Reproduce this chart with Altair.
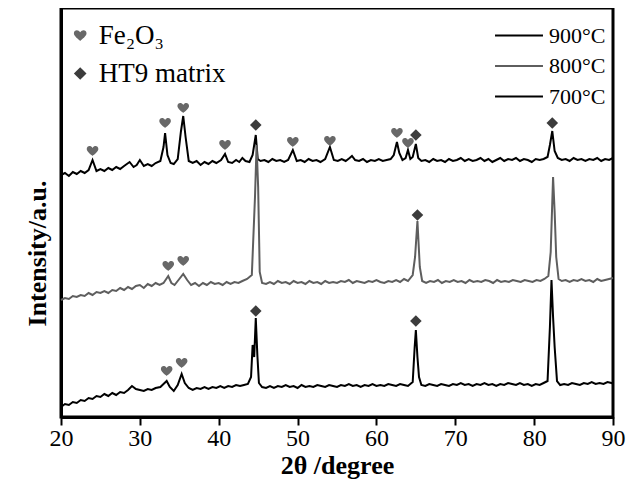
import altair as alt
import pandas as pd

# ---------------- data (2theta in degrees, intensity in arbitrary units) ----------------
temps = ["900°C", "800°C", "700°C"]
line_colors = ["#000000", "#5e5e5e", "#000000"]

t900 = [
    (20.0, 242), (20.5, 244), (21.0, 241), (21.5, 245), (22.0, 243), (22.5, 246), (23.0, 244),
    (23.5, 247), (24.0, 257), (24.5, 246), (25.0, 248), (25.5, 246), (26.0, 249), (26.5, 247),
    (27.0, 250), (27.5, 248), (28.0, 251), (28.7, 255), (29.2, 250), (29.6, 252), (30.0, 257),
    (30.5, 251), (31.0, 253), (31.5, 251), (32.0, 254), (32.6, 256), (33.0, 270), (33.2, 284),
    (33.5, 262), (33.9, 254), (34.3, 253), (34.8, 258), (35.2, 285), (35.5, 301), (35.8, 280),
    (36.2, 256), (36.7, 254), (37.2, 256), (37.7, 252), (38.2, 255), (38.7, 253), (39.2, 256),
    (39.7, 254), (40.3, 257), (40.8, 263), (41.2, 255), (41.7, 254), (42.2, 257), (42.6, 255),
    (43.0, 259), (43.4, 256), (43.9, 255), (44.3, 262), (44.7, 282), (44.95, 258), (45.3, 256),
    (45.8, 257), (46.3, 255), (46.8, 258), (47.3, 256), (47.8, 257), (48.3, 255), (48.8, 257),
    (49.4, 267), (49.9, 256), (50.4, 257), (50.9, 255), (51.4, 258), (51.9, 256), (52.4, 257),
    (52.9, 255), (53.5, 258), (54.1, 270), (54.6, 257), (55.1, 256), (55.6, 258), (56.1, 256),
    (56.6, 259), (56.9, 261), (57.3, 257), (57.8, 256), (58.3, 258), (58.8, 255), (59.3, 257),
    (59.8, 256), (60.3, 258), (60.8, 256), (61.3, 257), (61.8, 258), (62.2, 262), (62.6, 275),
    (62.9, 264), (63.3, 257), (63.7, 259), (64.0, 267), (64.3, 258), (64.6, 260), (65.0, 273),
    (65.3, 259), (65.7, 256), (66.2, 257), (66.7, 255), (67.2, 258), (67.7, 256), (68.2, 257),
    (68.7, 255), (69.2, 258), (69.7, 256), (70.2, 257), (70.7, 259), (71.2, 256), (71.7, 258),
    (72.2, 256), (72.7, 257), (73.2, 259), (73.7, 256), (74.2, 258), (74.7, 255), (75.2, 257),
    (75.7, 259), (76.2, 256), (76.7, 258), (77.2, 257), (77.7, 259), (78.2, 256), (78.7, 258),
    (79.2, 257), (79.7, 255), (80.2, 258), (80.7, 257), (81.2, 258), (81.7, 260), (82.0, 272),
    (82.3, 286), (82.6, 266), (83.0, 259), (83.5, 257), (84.0, 258), (84.5, 256), (85.0, 259),
    (85.5, 257), (86.0, 258), (86.5, 256), (87.0, 258), (87.5, 257), (88.0, 259), (88.5, 256),
    (89.0, 258), (89.5, 257), (90.0, 259),
]

t800 = [
    (20.0, 117), (20.5, 119), (21.0, 118), (21.5, 121), (22.0, 120), (22.5, 122), (23.0, 121),
    (23.5, 124), (24.0, 122), (24.5, 125), (25.0, 124), (25.5, 126), (26.0, 124), (26.5, 127),
    (27.0, 126), (27.5, 129), (28.0, 127), (28.5, 130), (29.0, 128), (29.5, 131), (30.0, 132),
    (30.5, 129), (31.0, 133), (31.5, 131), (32.0, 134), (32.5, 132), (33.0, 134), (33.6, 141),
    (34.0, 134), (34.4, 132), (34.9, 137), (35.5, 143), (36.0, 137), (36.5, 132), (37.0, 134),
    (37.5, 131), (38.0, 134), (38.5, 132), (39.0, 135), (39.5, 133), (40.0, 134), (40.5, 132),
    (41.0, 135), (41.5, 133), (42.0, 135), (42.5, 134), (43.0, 136), (43.6, 138), (44.2, 142),
    (44.6, 220), (44.8, 272), (45.0, 230), (45.2, 145), (45.5, 134), (46.0, 133), (46.5, 135),
    (47.0, 133), (47.5, 136), (48.0, 134), (48.5, 135), (49.0, 133), (49.5, 136), (50.0, 134),
    (50.5, 135), (51.0, 133), (51.5, 136), (52.0, 134), (52.5, 135), (53.0, 133), (53.5, 136),
    (54.0, 134), (54.5, 135), (55.0, 134), (55.5, 136), (56.0, 135), (56.5, 137), (57.0, 134),
    (57.5, 136), (58.0, 135), (58.5, 134), (59.0, 136), (59.5, 135), (60.0, 137), (60.5, 135),
    (61.0, 134), (61.5, 136), (62.0, 135), (62.5, 137), (63.0, 135), (63.5, 138), (64.0, 136),
    (64.6, 142), (64.9, 160), (65.2, 196), (65.5, 150), (65.8, 136), (66.3, 134), (66.8, 136),
    (67.3, 135), (67.8, 137), (68.3, 134), (68.8, 136), (69.3, 135), (69.8, 137), (70.3, 135),
    (70.8, 136), (71.3, 134), (71.8, 137), (72.3, 135), (72.8, 136), (73.3, 135), (73.8, 137),
    (74.3, 136), (74.8, 134), (75.3, 137), (75.8, 135), (76.3, 136), (76.8, 135), (77.3, 137),
    (77.8, 136), (78.3, 135), (78.8, 137), (79.3, 136), (79.8, 135), (80.3, 137), (80.8, 136),
    (81.3, 138), (81.8, 141), (82.1, 165), (82.4, 240), (82.6, 205), (82.8, 160), (83.1, 138),
    (83.5, 136), (84.0, 137), (84.5, 135), (85.0, 137), (85.5, 136), (86.0, 138), (86.5, 136),
    (87.0, 137), (87.5, 135), (88.0, 138), (88.5, 136), (89.0, 137), (89.5, 138), (90.0, 139),
]

t700 = [
    (20.0, 10), (20.5, 13), (21.0, 12), (21.5, 15), (22.0, 14), (22.5, 17), (23.0, 16),
    (23.5, 19), (24.0, 18), (24.5, 21), (25.0, 20), (25.5, 23), (26.0, 21), (26.5, 24),
    (27.0, 22), (27.5, 25), (28.0, 24), (28.5, 27), (29.0, 31), (29.5, 28), (30.0, 27),
    (30.5, 26), (31.0, 28), (31.5, 27), (32.0, 29), (32.6, 30), (33.0, 33), (33.4, 36),
    (33.8, 30), (34.3, 26), (34.8, 32), (35.3, 43), (35.7, 34), (36.2, 29), (36.7, 27),
    (37.2, 29), (37.7, 28), (38.2, 30), (38.7, 28), (39.2, 30), (39.7, 29), (40.2, 31),
    (40.7, 29), (41.2, 31), (41.7, 30), (42.2, 32), (42.7, 31), (43.2, 32), (43.7, 33),
    (44.1, 40), (44.3, 72), (44.5, 60), (44.7, 99), (44.9, 62), (45.1, 34), (45.5, 30),
    (46.0, 29), (46.5, 31), (47.0, 29), (47.5, 31), (48.0, 30), (48.5, 32), (49.0, 30),
    (49.5, 31), (50.0, 29), (50.5, 32), (51.0, 30), (51.5, 31), (52.0, 30), (52.5, 32),
    (53.0, 31), (53.5, 30), (54.0, 32), (54.5, 31), (55.0, 30), (55.5, 32), (56.0, 31),
    (56.5, 33), (57.0, 31), (57.5, 32), (58.0, 30), (58.5, 32), (59.0, 31), (59.5, 33),
    (60.0, 31), (60.5, 32), (61.0, 31), (61.5, 33), (62.0, 32), (62.5, 31), (63.0, 33),
    (63.5, 32), (64.0, 31), (64.6, 35), (64.85, 70), (65.0, 87), (65.2, 60), (65.4, 40),
    (65.7, 32), (66.2, 31), (66.7, 33), (67.2, 32), (67.7, 31), (68.2, 33), (68.7, 32),
    (69.2, 31), (69.7, 33), (70.2, 32), (70.7, 34), (71.2, 32), (71.7, 33), (72.2, 31),
    (72.7, 33), (73.2, 32), (73.7, 34), (74.2, 32), (74.7, 33), (75.2, 31), (75.7, 33),
    (76.2, 32), (76.7, 34), (77.2, 33), (77.7, 32), (78.2, 34), (78.7, 32), (79.2, 33),
    (79.7, 31), (80.2, 33), (80.7, 32), (81.2, 34), (81.7, 36), (82.0, 90), (82.2, 137),
    (82.4, 100), (82.6, 70), (82.9, 36), (83.3, 32), (83.8, 33), (84.3, 32), (84.8, 34),
    (85.3, 33), (85.8, 32), (86.3, 34), (86.8, 33), (87.3, 35), (87.8, 33), (88.3, 34),
    (88.8, 33), (89.3, 35), (89.8, 34), (90.0, 33),
]

phases = ["Fe₂O₃", "HT9 matrix"]
phase_colors = ["#686868", "#3c3c3c"]

# peak markers: (2theta, intensity)
fe2o3_peaks = [
    (24.0, 266), (33.2, 294), (35.5, 309), (40.8, 272), (49.4, 275), (54.1, 276),
    (62.6, 284), (64.0, 274),
    (33.6, 151), (35.5, 156),
    (33.4, 46), (35.3, 54),
]
ht9_peaks = [
    (44.7, 292), (65.0, 282), (82.3, 294),
    (65.2, 202),
    (44.7, 106), (65.0, 96),
]

x_ticks = [20, 25, 30, 35, 40, 45, 50, 55, 60, 65, 70, 75, 80, 85, 90]

# ---------------- build tables ----------------
rows = []
for name, series in zip(temps, [t900, t800, t700]):
    for i, (x, y) in enumerate(series):
        rows.append({"temp": name, "x": x, "y": y, "order": i})
lines_df = pd.DataFrame(rows)

mrows = [{"phase": phases[0], "x": x, "y": y} for x, y in fe2o3_peaks]
mrows += [{"phase": phases[1], "x": x, "y": y} for x, y in ht9_peaks]
markers_df = pd.DataFrame(mrows)

heart = ("M0,0.85 C-0.25,0.6 -1,0.15 -1,-0.35 C-1,-0.9 -0.3,-1.05 0,-0.5 "
         "C0.3,-1.05 1,-0.9 1,-0.35 C1,0.15 0.25,0.6 0,0.85 Z")

SERIF = "Liberation Serif"

x_scale = alt.Scale(domain=[20, 90], nice=False, zero=False)
y_scale = alt.Scale(domain=[0, 409], nice=False, zero=False)

x_axis = alt.Axis(
    values=x_ticks,
    labelExpr="datum.value % 10 === 0 ? datum.label : ''",
    title="2θ /degree",
    titleFont=SERIF, titleFontSize=26, titleFontWeight="bold", titleColor="black",
    titleY=56, titleBaseline="alphabetic",
    labelFont=SERIF, labelFontSize=24, labelColor="black", labelPadding=1,
    tickColor="black", tickWidth=2,
    tickSize={"condition": {"test": "datum.value % 10 === 0", "value": 8}, "value": 4},
    domainColor="black", domainWidth=3, grid=False, labelFlush=False,
)
y_axis = alt.Axis(
    title="Intensity/a.u.", labels=False, ticks=False, grid=False,
    domainColor="black", domainWidth=3,
    titleFont=SERIF, titleFontSize=26, titleFontWeight="bold", titleColor="black",
    titlePadding=11, titleY=245,
)

lines = alt.Chart(lines_df).mark_line(strokeWidth=2).encode(
    x=alt.X("x:Q", scale=x_scale, axis=x_axis),
    y=alt.Y("y:Q", scale=y_scale, axis=y_axis),
    color=alt.Color(
        "temp:N",
        scale=alt.Scale(domain=temps, range=line_colors),
        legend=alt.Legend(
            title=None, orient="none", legendX=447, legendY=16.5, padding=0,
            symbolType="M-5,0H5", symbolSize=92, symbolStrokeWidth=2,
            labelFont=SERIF, labelFontSize=22, labelColor="black",
            labelOffset=19, rowPadding=8.5,
        ),
    ),
    order="order:Q",
)

legend_common = dict(
    title=None, orient="none", legendX=5.7, legendY=14, padding=0,
    symbolSize=160, labelFont=SERIF, labelFontSize=27, labelColor="black",
    labelOffset=5, rowPadding=10, symbolStrokeWidth=0,
)

points = alt.Chart(markers_df).mark_point(filled=True, size=135, opacity=1, strokeWidth=0).encode(
    x=alt.X("x:Q", scale=x_scale),
    y=alt.Y("y:Q", scale=y_scale),
    shape=alt.Shape("phase:N", scale=alt.Scale(domain=phases, range=[heart, "diamond"]),
                    legend=alt.Legend(**legend_common)),
    fill=alt.Fill("phase:N", scale=alt.Scale(domain=phases, range=phase_colors),
                  legend=alt.Legend(**legend_common)),
)

chart = alt.layer(lines, points).properties(
    width=552, height=409,
    autosize=alt.AutoSizeParams(type="none"),
    padding={"left": 53, "top": 0, "right": 15, "bottom": 63},
    background="white",
).configure_view(stroke="black", strokeWidth=3)

chart.save("out.html", embed_options={"renderer": "svg", "actions": False})
